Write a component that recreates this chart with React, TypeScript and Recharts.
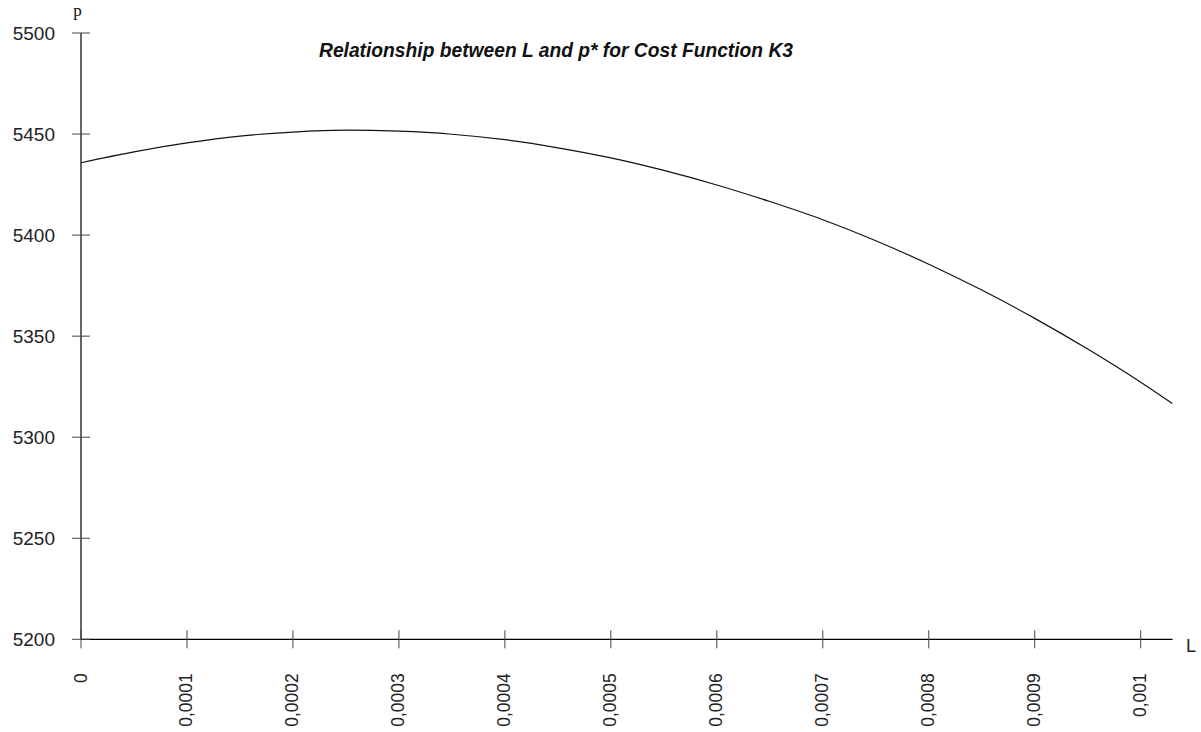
import React from 'react';
import { LineChart, Line, XAxis, YAxis } from 'recharts';

// L values (x) and the optimal price p* (y) for cost function K3
const L_VALUES = [
  0, 0.00005, 0.0001, 0.00015, 0.0002, 0.00025, 0.0003, 0.00035, 0.0004, 0.00045, 0.0005,
  0.00055, 0.0006, 0.00065, 0.0007, 0.00075, 0.0008, 0.00085, 0.0009, 0.00095, 0.001, 0.00103,
];
const P_VALUES = [
  5435.8, 5441.2, 5445.6, 5449.0, 5451.0, 5451.9, 5451.4, 5449.9, 5447.2, 5443.2, 5438.2,
  5432.0, 5424.8, 5416.6, 5407.6, 5397.2, 5385.6, 5372.8, 5358.8, 5343.6, 5327.2, 5316.6,
];

const X_TICKS = [0, 0.0001, 0.0002, 0.0003, 0.0004, 0.0005, 0.0006, 0.0007, 0.0008, 0.0009, 0.001];
const Y_TICKS = [5200, 5250, 5300, 5350, 5400, 5450, 5500];

const TITLE = 'Relationship between L and p* for Cost Function K3';

const data = L_VALUES.map((l, i) => ({ l, p: P_VALUES[i] }));

const TICK_FONT = '"Liberation Sans", Arial, sans-serif';

// ticks cross the axis line on both sides
const YTick = (props: any) => {
  const { x, y, payload } = props;
  return (
    <g>
      <line x1={x - 9} x2={x + 9} y1={y} y2={y} stroke="#444" strokeWidth={1} />
      <text x={x - 26} y={y + 7} textAnchor="end" fontFamily={TICK_FONT} fontSize={19} fill="#222">
        {payload.value}
      </text>
    </g>
  );
};

const XTick = (props: any) => {
  const { x, y, payload } = props;
  const label = String(payload.value).replace('.', ',');
  return (
    <g>
      <line x1={x} x2={x} y1={y - 9} y2={y + 9} stroke="#444" strokeWidth={1} />
      <text
        transform={`translate(${x + 5.5}, ${y + 34}) rotate(-90)`}
        textAnchor="end"
        fontFamily={TICK_FONT}
        fontSize={17.5}
        fill="#222"
      >
        {label}
      </text>
    </g>
  );
};

export default function App() {
  return (
    <div style={{ position: 'absolute', left: 0, top: 0, background: '#fff' }}>
      <LineChart
        width={1201}
        height={732}
        data={data}
        margin={{ top: 33, right: 28.5, bottom: 0, left: 0 }}
      >
        <XAxis
          dataKey="l"
          type="number"
          domain={[0, 0.00103]}
          ticks={X_TICKS}
          interval={0}
          height={92.7}
          stroke="#000"
          strokeWidth={1.2}
          tickLine={false}
          tickSize={0}
          tickMargin={0}
          tick={<XTick />}
          allowDataOverflow
        />
        <YAxis
          type="number"
          domain={[5200, 5500]}
          ticks={Y_TICKS}
          interval={0}
          width={81}
          stroke="#000"
          strokeWidth={1.2}
          tickLine={false}
          tickSize={0}
          tickMargin={0}
          tick={<YTick />}
          allowDataOverflow
        />
        <Line
          type="monotone"
          dataKey="p"
          stroke="#111"
          strokeWidth={1.2}
          dot={false}
          activeDot={false}
          isAnimationActive={false}
        />
        <text x={319} y={57} fontFamily='"Liberation Sans", Arial, sans-serif' fontStyle="italic" fontWeight={600} fontSize={20} fill="#111" textLength={474} lengthAdjust="spacingAndGlyphs">
          {TITLE}
        </text>
        <text x={77.5} y={16} textAnchor="middle" fontFamily='"Liberation Serif", "Times New Roman", serif' fontSize={17} fill="#111">
          p
        </text>
        <text x={1186} y={652} fontFamily={TICK_FONT} fontSize={18} fill="#222">
          L
        </text>
      </LineChart>
    </div>
  );
}
